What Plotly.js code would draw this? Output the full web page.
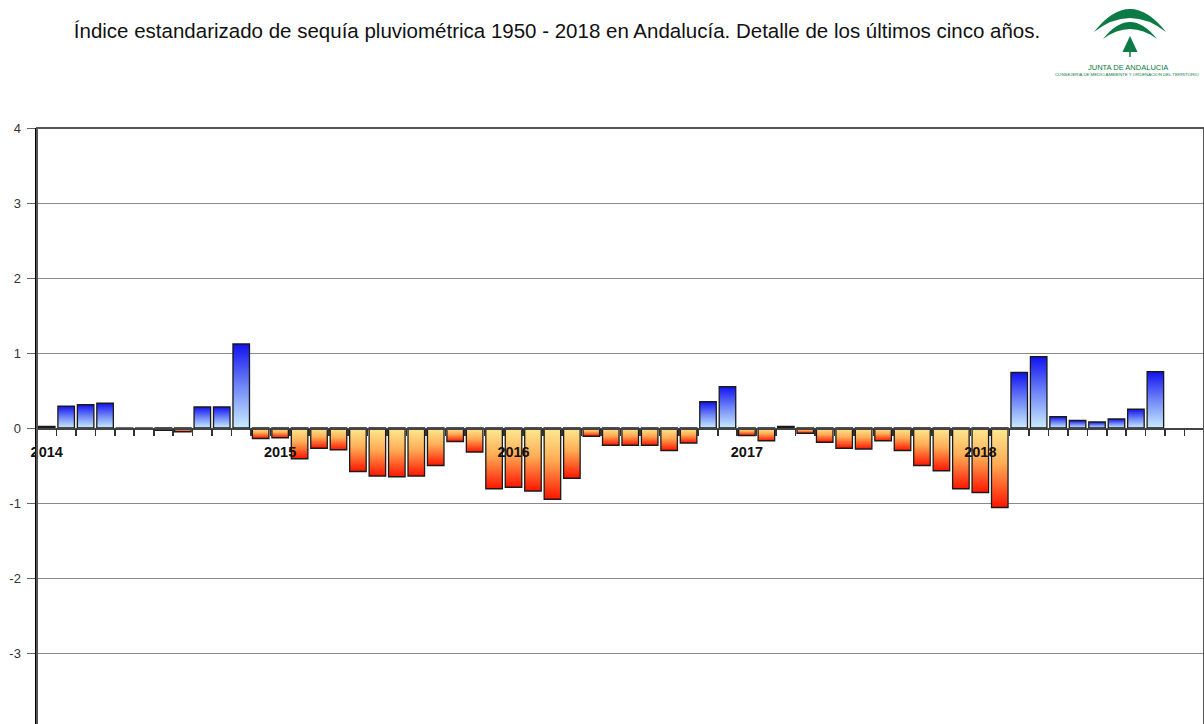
<!DOCTYPE html>
<html>
<head>
<meta charset="utf-8">
<script src="https://cdn.plot.ly/plotly-3.0.1.min.js"></script>
<style>
html, body { margin: 0; padding: 0; overflow: hidden; background: #fff; }
#chart { width: 1204px; height: 745px; }
</style>
</head>
<body>
<div id="chart"></div>
<script>
// Months shown on the axis (Jan 2014 - Dec 2018)
const months = [
  '2014-01','2014-02','2014-03','2014-04','2014-05','2014-06','2014-07','2014-08','2014-09','2014-10','2014-11','2014-12',
  '2015-01','2015-02','2015-03','2015-04','2015-05','2015-06','2015-07','2015-08','2015-09','2015-10','2015-11','2015-12',
  '2016-01','2016-02','2016-03','2016-04','2016-05','2016-06','2016-07','2016-08','2016-09','2016-10','2016-11','2016-12',
  '2017-01','2017-02','2017-03','2017-04','2017-05','2017-06','2017-07','2017-08','2017-09','2017-10','2017-11','2017-12',
  '2018-01','2018-02','2018-03','2018-04','2018-05','2018-06','2018-07','2018-08','2018-09','2018-10','2018-11','2018-12'
];
// Standardized precipitation drought index (Jan 2014 - Oct 2018)
const spei = [
   0.02,  0.29,  0.31,  0.33, -0.01, -0.01, -0.03, -0.05,  0.28,  0.28,  1.12, -0.14,
  -0.13, -0.41, -0.27, -0.29, -0.58, -0.64, -0.65, -0.64, -0.50, -0.18, -0.32, -0.81,
  -0.79, -0.84, -0.95, -0.67, -0.11, -0.23, -0.23, -0.23, -0.30, -0.20,  0.35,  0.55,
  -0.10, -0.17,  0.02, -0.07, -0.19, -0.27, -0.28, -0.17, -0.30, -0.50, -0.57, -0.81,
  -0.86, -1.06,  0.74,  0.95,  0.15,  0.10,  0.08,  0.12,  0.25,  0.75
];
const yTicks = [-4, -3, -2, -1, 0, 1, 2, 3, 4];
const yearTickVals = ['2014-01', '2015-01', '2016-01', '2017-01', '2018-01'];
const yearTickText = ['2014', '2015', '2016', '2017', '2018'];

const titleText = 'Índice estandarizado de sequía pluviométrica 1950 - 2018 en Andalucía. Detalle de los últimos cinco años.';
const logoLine1 = 'JUNTA DE ANDALUCIA';
const logoLine2 = 'CONSEJERIA DE MEDIO AMBIENTE Y ORDENACION DEL TERRITORIO';

// month boundary tick positions on a helper index axis
const monthBoundaries = months.map((m, i) => i - 0.5).concat([months.length - 0.5]);

// layout geometry (pixels)
const W = 1204, H = 745;
const M = { l: 37, r: 0, t: 128, b: 17 };
const PW = W - M.l - M.r, PH = H - M.t - M.b;
const px = x => (x - M.l) / PW;
const py = y => (H - M.b - y) / PH;
const P = (x, y) => px(x).toFixed(5) + ',' + py(y).toFixed(5);

const green = '#0b7a44';
const logoShapes = [
  { type: 'path', xref: 'paper', yref: 'paper', fillcolor: green, line: { width: 0 },
    path: 'M' + P(1094, 32) + ' Q' + P(1130, -14) + ' ' + P(1166, 32) + ' Q' + P(1130, 4) + ' ' + P(1094, 32) + ' Z' },
  { type: 'path', xref: 'paper', yref: 'paper', fillcolor: green, line: { width: 0 },
    path: 'M' + P(1103, 39) + ' Q' + P(1130, 5) + ' ' + P(1157, 39) + ' Q' + P(1130, 19) + ' ' + P(1103, 39) + ' Z' },
  { type: 'path', xref: 'paper', yref: 'paper', fillcolor: green, line: { width: 0 },
    path: 'M' + P(1130, 36) + ' L' + P(1137.5, 52) + ' L' + P(1122.5, 52) + ' Z' },
  { type: 'line', xref: 'paper', yref: 'paper', x0: px(1130), x1: px(1130), y0: py(52), y1: py(57),
    line: { color: green, width: 1.5 } },
  // plot frame
  { type: 'rect', xref: 'paper', yref: 'paper', x0: 0, x1: 1, y0: 0, y1: 1, layer: 'above',
    line: { color: '#555', width: 2 } }
];

const bars = {
  type: 'bar',
  x: months.slice(0, spei.length),
  y: spei,
  marker: {
    color: spei.map(v => v >= 0 ? '#5a6cf5' : '#ff8a3a'),
    line: { color: '#1a1a1a', width: 1.3 }
  },
  hoverinfo: 'x+y'
};
// empty helper trace so the month-boundary tick axis is drawn
const tickHelper = { type: 'scatter', x: [], y: [], xaxis: 'x2', yaxis: 'y', hoverinfo: 'skip', showlegend: false };

const fontFam = 'Liberation Sans, Arial, sans-serif';
const layout = {
  width: W, height: H,
  margin: M,
  paper_bgcolor: '#fff', plot_bgcolor: '#fff',
  showlegend: false,
  bargap: 0.15,
  title: {
    text: titleText,
    x: 557 / W, xref: 'container', xanchor: 'center',
    y: 1 - 31 / H, yref: 'container', yanchor: 'middle',
    font: { family: fontFam, size: 20.5, color: '#111' }
  },
  xaxis: {
    type: 'category',
    categoryorder: 'array', categoryarray: months,
    range: [-0.5, months.length - 0.5],
    anchor: 'free', position: 0.5,
    showline: true, linecolor: '#444', linewidth: 1.5,
    showgrid: false, zeroline: false,
    tickmode: 'array', tickvals: yearTickVals, ticktext: yearTickText,
    ticks: '',
    ticklabelstandoff: 10,
    tickangle: 0,
    tickfont: { family: fontFam, size: 14.5, color: '#111', weight: 'bold' },
    fixedrange: true
  },
  xaxis2: {
    type: 'linear',
    overlaying: 'x',
    range: [-0.5, months.length - 0.5],
    anchor: 'free', position: 0.5, side: 'bottom',
    showline: false, showgrid: false, zeroline: false,
    tickmode: 'array', tickvals: monthBoundaries,
    showticklabels: false,
    ticks: 'outside', ticklen: 7, tickwidth: 1.6, tickcolor: '#333',
    layer: 'above traces',
    fixedrange: true
  },
  yaxis: {
    range: [-4, 4],
    tickmode: 'array', tickvals: yTicks, ticktext: yTicks.map(String),
    showgrid: true, gridcolor: '#8a8a8a', gridwidth: 1,
    zeroline: false,
    showline: true, linecolor: '#000', linewidth: 2.5,
    ticks: 'outside', ticklen: 8, tickwidth: 1, tickcolor: '#666',
    ticklabelstandoff: 3,
    tickfont: { family: fontFam, size: 13, color: '#333' },
    fixedrange: true
  },
  shapes: logoShapes,
  annotations: [
    { xref: 'paper', yref: 'paper', x: px(1128), y: py(67), xanchor: 'center', yanchor: 'middle',
      text: logoLine1, showarrow: false,
      font: { family: 'Liberation Sans Narrow, ' + fontFam, size: 7.5, color: green } },
    { xref: 'paper', yref: 'paper', x: px(1053), y: py(75), xanchor: 'left', yanchor: 'middle',
      text: logoLine2, showarrow: false,
      font: { family: 'Liberation Sans Narrow, ' + fontFam, size: 4.3, color: green } }
  ]
};

Plotly.newPlot('chart', [bars, tickHelper], layout, { displayModeBar: false, staticPlot: true }).then(gd => {
  // per-bar vertical gradients, like the original chart
  const svg = gd.querySelector('.main-svg');
  const NS = 'http://www.w3.org/2000/svg';
  let defs = svg.querySelector('defs');
  if (!defs) { defs = document.createElementNS(NS, 'defs'); svg.insertBefore(defs, svg.firstChild); }
  function grad(id, stops) {
    const g = document.createElementNS(NS, 'linearGradient');
    g.setAttribute('id', id);
    g.setAttribute('x1', '0'); g.setAttribute('y1', '0');
    g.setAttribute('x2', '0'); g.setAttribute('y2', '1');
    stops.forEach(([o, c]) => {
      const s = document.createElementNS(NS, 'stop');
      s.setAttribute('offset', o); s.setAttribute('stop-color', c);
      g.appendChild(s);
    });
    defs.appendChild(g);
  }
  grad('gpos', [[0, '#1212f0'], [0.5, '#6f86f7'], [1, '#c9ecff']]);
  grad('gneg', [[0, '#fdea92'], [0.45, '#ffac55'], [1, '#ff1500']]);
  const paths = gd.querySelectorAll('.barlayer .point path');
  paths.forEach((p, i) => {
    const v = spei[i];
    if (v === undefined) return;
    p.style.fill = v >= 0 ? 'url(#gpos)' : 'url(#gneg)';
  });
});
</script>
</body>
</html>
